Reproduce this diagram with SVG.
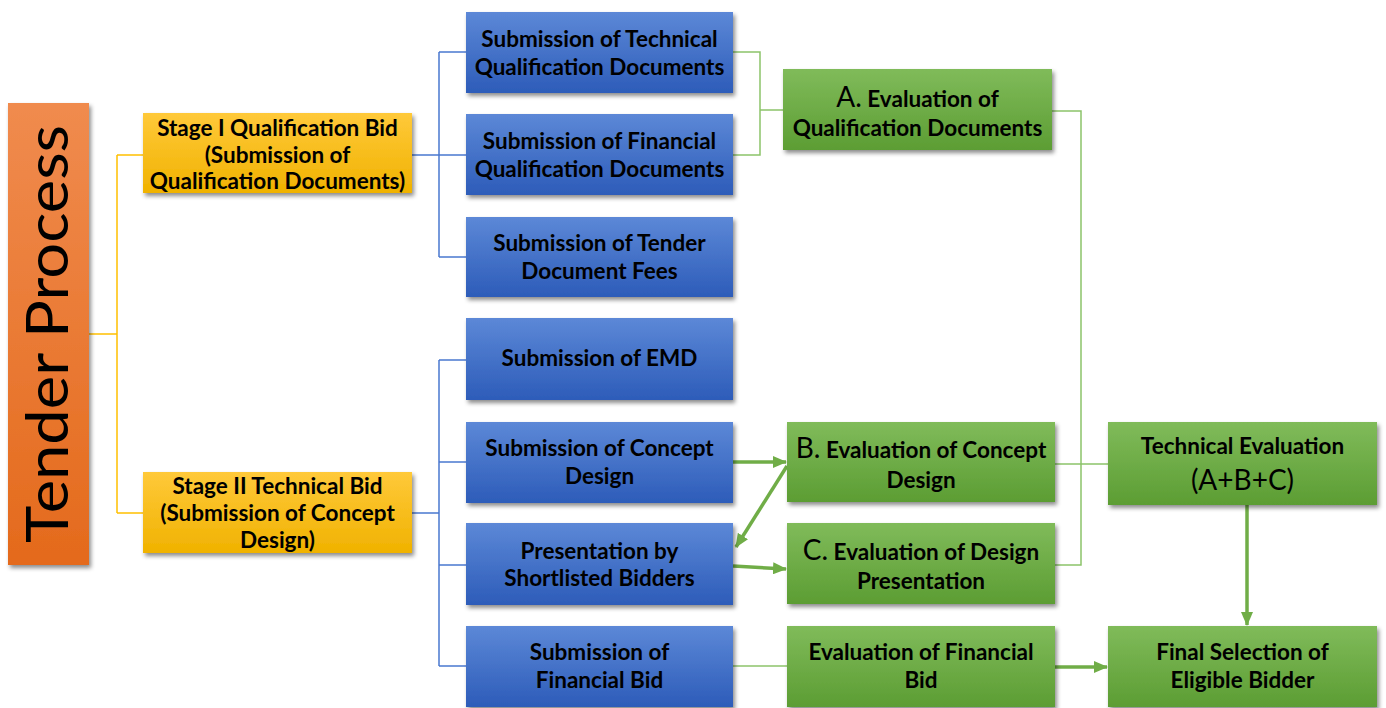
<svg xmlns="http://www.w3.org/2000/svg" width="1386" height="708" viewBox="0 0 1386 708">
  <style>
    .t { font-family: Lato, "Liberation Sans", sans-serif; font-weight: bold; font-size: 22.5px; fill: #000; text-anchor: middle; }
    .big { font-family: Lato, "Liberation Sans", sans-serif; font-weight: normal; font-size: 28px; }
    .yl { fill: none; stroke: #FFC000; stroke-width: 1.5; }
    .bl { fill: none; stroke: #4A78CF; stroke-width: 1.5; }
    .gl { fill: none; stroke: #8CC36A; stroke-width: 1.5; }
    .ga { fill: none; stroke: #70AD47; stroke-width: 3.5; marker-end: url(#ah); }
  </style>
  <defs>
    <linearGradient id="gOrange" x1="0" y1="0" x2="0" y2="1">
      <stop offset="0" stop-color="#F08B4E"/>
      <stop offset="1" stop-color="#E46A1C"/>
    </linearGradient>
    <linearGradient id="gYellow" x1="0" y1="0" x2="0" y2="1">
      <stop offset="0" stop-color="#FFC93A"/>
      <stop offset="1" stop-color="#F0B200"/>
    </linearGradient>
    <linearGradient id="gBlue" x1="0" y1="0" x2="0" y2="1">
      <stop offset="0" stop-color="#5C88D7"/>
      <stop offset="1" stop-color="#2D5CB9"/>
    </linearGradient>
    <linearGradient id="gGreen" x1="0" y1="0" x2="0" y2="1">
      <stop offset="0" stop-color="#80BB5A"/>
      <stop offset="1" stop-color="#5C9D33"/>
    </linearGradient>
    <filter id="sh" x="-10%" y="-10%" width="120%" height="130%">
      <feDropShadow dx="2" dy="3" stdDeviation="2" flood-color="#000" flood-opacity="0.45"/>
    </filter>
    <marker id="ah" markerUnits="userSpaceOnUse" markerWidth="14" markerHeight="12" viewBox="0 0 14 12" refX="13" refY="6" orient="auto">
      <path d="M0,0 L14,6 L0,12 Z" fill="#70AD47"/>
    </marker>
  </defs>

  <rect width="1386" height="708" fill="#fff"/>

  <!-- connectors -->
  <g id="connectors">
    <!-- Tender Process to stages -->
    <path class="yl" d="M89,334 H117 M117,155 V513 M117,155 H143 M117,513 H143"/>
    <!-- Stage I to its submissions -->
    <path class="bl" d="M412,155 H439 M439,52 V257 M439,52 H466 M439,155 H466 M439,257 H466"/>
    <!-- Stage II to its submissions -->
    <path class="bl" d="M412,513 H439 M439,360 V666 M439,360 H466 M439,462 H466 M439,565 H466 M439,666 H466"/>
    <!-- qualification documents to evaluation A -->
    <path class="gl" d="M733,52 H760 V155 H733 M760,110 H783"/>
    <!-- A, B, C to technical evaluation -->
    <path class="gl" d="M1052,111 H1081 V565 H1055 M1055,464 H1108"/>
    <!-- financial bid to its evaluation -->
    <path class="gl" d="M733,666 H787"/>
    <!-- arrows -->
    <path class="ga" d="M733,462 L786,462"/>
    <path class="ga" d="M787,466 L736,547"/>
    <path class="ga" d="M733,566 L786,569"/>
    <path class="ga" d="M1247,505 L1247,625"/>
    <path class="ga" d="M1055,667 L1107,667"/>
  </g>

  <!-- Tender Process -->
  <g id="tender-process">
    <rect x="8" y="103" width="81" height="462" fill="url(#gOrange)" filter="url(#sh)"/>
    <text transform="translate(68,334) rotate(-90)" text-anchor="middle" font-family="Lato, 'Liberation Sans', sans-serif" font-size="58" fill="#000" textLength="418" lengthAdjust="spacingAndGlyphs">Tender Process</text>
  </g>

  <!-- Stage I -->
  <g id="stage-1">
    <rect x="143" y="113" width="269" height="80" fill="url(#gYellow)" filter="url(#sh)"/>
    <text class="t" x="277.5" y="136">Stage I Qualification Bid</text>
    <text class="t" x="277.5" y="162.5">(Submission of</text>
    <text class="t" x="277.5" y="189">Qualification Documents)</text>
  </g>

  <!-- Stage II -->
  <g id="stage-2">
    <rect x="143" y="472" width="269" height="81" fill="url(#gYellow)" filter="url(#sh)"/>
    <text class="t" x="277.5" y="494">Stage II Technical Bid</text>
    <text class="t" x="277.5" y="521">(Submission of Concept</text>
    <text class="t" x="277.5" y="548">Design)</text>
  </g>

  <!-- Stage I submissions -->
  <g id="sub-technical-qual">
    <rect x="466" y="12" width="267" height="81" fill="url(#gBlue)" filter="url(#sh)"/>
    <text class="t" x="599.5" y="47">Submission of Technical</text>
    <text class="t" x="599.5" y="75">Qualification Documents</text>
  </g>
  <g id="sub-financial-qual">
    <rect x="466" y="114" width="267" height="81" fill="url(#gBlue)" filter="url(#sh)"/>
    <text class="t" x="599.5" y="149">Submission of Financial</text>
    <text class="t" x="599.5" y="177">Qualification Documents</text>
  </g>
  <g id="sub-tender-fees">
    <rect x="466" y="217" width="267" height="80" fill="url(#gBlue)" filter="url(#sh)"/>
    <text class="t" x="599.5" y="251">Submission of Tender</text>
    <text class="t" x="599.5" y="279">Document Fees</text>
  </g>

  <!-- Stage II submissions -->
  <g id="sub-emd">
    <rect x="466" y="318" width="267" height="82" fill="url(#gBlue)" filter="url(#sh)"/>
    <text class="t" x="599.5" y="366">Submission of EMD</text>
  </g>
  <g id="sub-concept-design">
    <rect x="466" y="422" width="267" height="81" fill="url(#gBlue)" filter="url(#sh)"/>
    <text class="t" x="599.5" y="456">Submission of Concept</text>
    <text class="t" x="599.5" y="484">Design</text>
  </g>
  <g id="presentation">
    <rect x="466" y="523" width="267" height="82" fill="url(#gBlue)" filter="url(#sh)"/>
    <text class="t" x="599.5" y="559">Presentation by</text>
    <text class="t" x="599.5" y="586">Shortlisted Bidders</text>
  </g>
  <g id="sub-financial-bid">
    <rect x="466" y="626" width="267" height="81" fill="url(#gBlue)" filter="url(#sh)"/>
    <text class="t" x="599.5" y="660">Submission of</text>
    <text class="t" x="599.5" y="688">Financial Bid</text>
  </g>

  <!-- Evaluations -->
  <g id="eval-a">
    <rect x="783" y="69" width="269" height="81" fill="url(#gGreen)" filter="url(#sh)"/>
    <text class="t" x="917.5" y="107"><tspan class="big">A.</tspan> Evaluation of</text>
    <text class="t" x="917.5" y="136">Qualification Documents</text>
  </g>
  <g id="eval-b">
    <rect x="787" y="422" width="268" height="80" fill="url(#gGreen)" filter="url(#sh)"/>
    <text class="t" x="921" y="458"><tspan class="big">B.</tspan> Evaluation of Concept</text>
    <text class="t" x="921" y="488">Design</text>
  </g>
  <g id="eval-c">
    <rect x="787" y="523" width="268" height="81" fill="url(#gGreen)" filter="url(#sh)"/>
    <text class="t" x="921" y="560"><tspan class="big">C.</tspan> Evaluation of Design</text>
    <text class="t" x="921" y="589">Presentation</text>
  </g>
  <g id="technical-evaluation">
    <rect x="1108" y="422" width="269" height="83" fill="url(#gGreen)" filter="url(#sh)"/>
    <text class="t" x="1242.5" y="454">Technical Evaluation</text>
    <text class="t big" x="1242.5" y="490">(A+B+C)</text>
  </g>
  <g id="eval-financial">
    <rect x="787" y="626" width="268" height="81" fill="url(#gGreen)" filter="url(#sh)"/>
    <text class="t" x="921" y="660">Evaluation of Financial</text>
    <text class="t" x="921" y="688">Bid</text>
  </g>
  <g id="final-selection">
    <rect x="1108" y="626" width="269" height="81" fill="url(#gGreen)" filter="url(#sh)"/>
    <text class="t" x="1242.5" y="660">Final Selection of</text>
    <text class="t" x="1242.5" y="688">Eligible Bidder</text>
  </g>
</svg>
